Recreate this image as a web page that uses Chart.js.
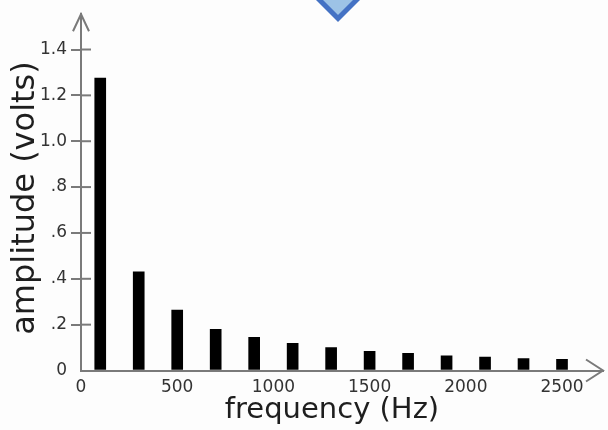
<!DOCTYPE html>
<html>
<head>
<meta charset="utf-8">
<script src="https://cdn.jsdelivr.net/npm/chart.js@4.4.1/dist/chart.umd.min.js"></script>
<style>
  html, body { margin: 0; padding: 0; background: #fff; }
  #wrap { position: relative; width: 608px; height: 430px; overflow: hidden; background: #fdfdfd; }
  #chart { position: absolute; left: 0; top: 0; }
  #diamond {
    position: absolute; left: 309px; top: -48px; width: 48px; height: 48px;
    background: #9dc3e6; border: 5px solid #4472c4; transform: rotate(45deg);
  }
</style>
</head>
<body>
<div id="wrap">
  <canvas id="chart" width="608" height="430"></canvas>
  <div id="diamond"></div>
</div>
<script>
// harmonics of the signal
const frequencies = [100, 300, 500, 700, 900, 1100, 1300, 1500, 1700, 1900, 2100, 2300, 2500];
const amplitudes = [1.275, 0.43, 0.263, 0.18, 0.145, 0.118, 0.1, 0.084, 0.075, 0.064, 0.058, 0.052, 0.049];
const xTicks = [0, 500, 1000, 1500, 2000, 2500];
const yTicks = [0, 0.2, 0.4, 0.6, 0.8, 1.0, 1.2, 1.4];

const axisColor = '#7a7a7a';
const textColor = '#333';

const axisExtras = {
  id: 'axisExtras',
  afterDraw(chart) {
    const { ctx, chartArea: a, scales: { x, y } } = chart;
    ctx.save();
    ctx.strokeStyle = axisColor;
    ctx.lineWidth = 2;
    // inner half of the y tick marks
    yTicks.forEach(v => {
      if (v === 0) return;
      const py = y.getPixelForValue(v);
      ctx.beginPath(); ctx.moveTo(a.left, py); ctx.lineTo(a.left + 10, py); ctx.stroke();
    });
    // arrow heads
    ctx.beginPath();
    ctx.moveTo(a.left - 8, a.top + 17); ctx.lineTo(a.left, a.top); ctx.lineTo(a.left + 8, a.top + 17);
    ctx.moveTo(a.right - 17, a.bottom - 11); ctx.lineTo(a.right, a.bottom); ctx.lineTo(a.right - 17, a.bottom + 11);
    ctx.stroke();

    // axis titles
    ctx.fillStyle = '#1e1e1e';
    ctx.font = '29px "DejaVu Sans"';
    ctx.textAlign = 'center';
    ctx.textBaseline = 'alphabetic';
    ctx.fillText('frequency (Hz)', 332, 418);
    ctx.translate(34, 198);
    ctx.rotate(-Math.PI / 2);
    ctx.font = '32px "DejaVu Sans"';
    ctx.fillText('amplitude (volts)', 0, 0);
    ctx.restore();
  }
};

new Chart(document.getElementById('chart'), {
  type: 'bar',
  data: {
    datasets: [{
      data: frequencies.map((f, i) => ({ x: f, y: amplitudes[i] })),
      backgroundColor: '#000',
      barThickness: 11
    }]
  },
  options: {
    responsive: false,
    animation: false,
    layout: { padding: { top: 7, right: 5, left: 0, bottom: 0 } },
    plugins: { legend: { display: false }, tooltip: { enabled: false } },
    scales: {
      x: {
        type: 'linear',
        offset: false,
        min: 0,
        max: 2713,
        afterBuildTicks: s => { s.ticks = xTicks.map(v => ({ value: v })); },
        afterFit: s => { s.height = 59.5; },
        grid: { display: false, drawTicks: false, offset: false },
        border: { display: true, color: axisColor, width: 2 },
        ticks: {
          padding: 7, color: textColor, font: { family: 'DejaVu Sans', size: 17 }, maxRotation: 0,
          callback: v => String(v)
        }
      },
      y: {
        min: 0,
        max: 1.554,
        afterBuildTicks: s => { s.ticks = yTicks.map(v => ({ value: v })); },
        afterFit: s => { s.width = 81; },
        grid: {
          drawOnChartArea: false,
          tickLength: 10,
          lineWidth: 2,
          color: c => c.tick && c.tick.value === 0 ? 'rgba(0,0,0,0)' : axisColor
        },
        border: { display: true, color: axisColor, width: 2 },
        ticks: {
          padding: 4,
          color: textColor,
          font: { family: 'DejaVu Sans', size: 17 },
          callback: v => v === 0 ? '0' : (v >= 1 ? v.toFixed(1) : v.toFixed(1).replace(/^0/, ''))
        }
      }
    }
  },
  plugins: [axisExtras]
});
</script>
</body>
</html>
